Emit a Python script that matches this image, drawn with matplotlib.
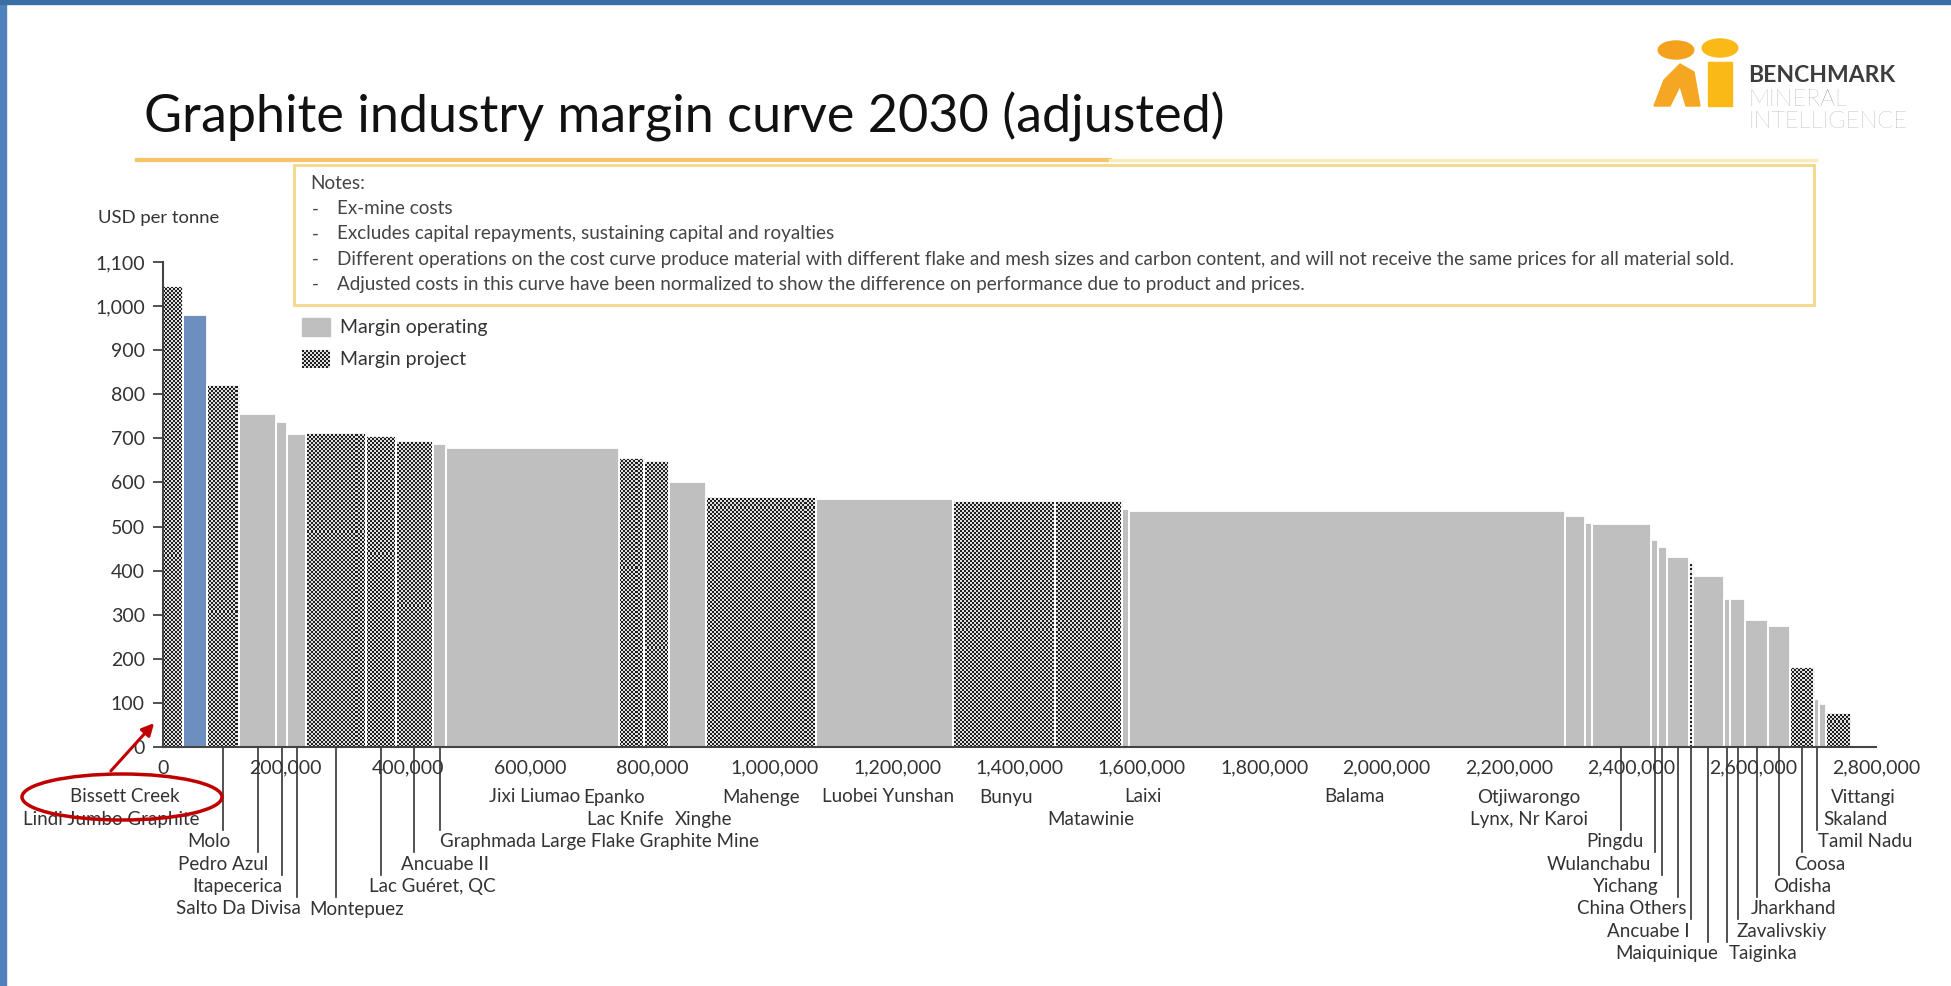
import matplotlib
matplotlib.use("Agg")
import matplotlib.pyplot as plt
from matplotlib.patches import Ellipse, Rectangle, FancyArrowPatch, Circle, Polygon
from matplotlib.colors import ListedColormap
from matplotlib.ticker import FuncFormatter
import numpy as np

plt.rcParams['font.family'] = ['Lato', 'DejaVu Sans']

# operations, left to right on the curve
names = ["Bissett Creek", "Lindi Jumbo Graphite", "Molo", "Pedro Azul", "Itapecerica",
         "Salto Da Divisa", "Montepuez", "Lac Guéret, QC", "Ancuabe II",
         "Graphmada Large Flake Graphite Mine", "Jixi Liumao", "Epanko", "Lac Knife",
         "Xinghe", "Mahenge", "Luobei Yunshan", "Bunyu", "Matawinie", "Laixi", "Balama",
         "Otjiwarongo", "Lynx, Nr Karoi", "Pingdu", "Wulanchabu", "Yichang",
         "China Others", "Ancuabe I", "Maiquinique", "Taiginka", "Zavalivskiy",
         "Jharkhand", "Odisha", "Coosa", "Tamil Nadu", "Skaland", "Vittangi"]
# capacity in tonnes
capacity = [32000, 40000, 53000, 60000, 18000, 31000, 97000, 50000, 60000, 22000,
            283000, 41000, 40000, 60000, 180000, 224000, 167000, 110000, 11000, 712000,
            33000, 11000, 97000, 12000, 14000, 36000, 7000, 50000, 11000, 24000,
            38000, 35000, 40000, 8000, 12000, 40000]
# margin USD per tonne
margin = [1045, 980, 822, 755, 738, 710, 712, 705, 693, 688,
          679, 655, 649, 602, 567, 562, 559, 559, 540, 535,
          525, 508, 505, 469, 454, 432, 417, 388, 336, 336,
          287, 275, 181, 110, 98, 78]
# P = project, O = operating, H = highlighted
kind = ["P", "H", "P", "O", "O", "O", "P", "P", "P", "O",
        "O", "P", "P", "O", "P", "O", "P", "P", "O", "O",
        "O", "O", "O", "O", "O", "O", "P", "O", "O", "O",
        "O", "O", "P", "O", "O", "P"]

notes = ["Ex-mine costs",
         "Excludes capital repayments, sustaining capital and royalties",
         "Different operations on the cost curve produce material with different flake and mesh sizes and carbon content, and will not receive the same prices for all material sold.",
         "Adjusted costs in this curve have been normalized to show the difference on performance due to product and prices."]

# label layout: (row, x position in tonnes, leader line)
label_layout = {
    "Bissett Creek": (1, -62000, False), "Lindi Jumbo Graphite": (2, -85000, False),
    "Molo": (3, 75000, True), "Pedro Azul": (4, 98000, True),
    "Itapecerica": (5, 122000, True), "Salto Da Divisa": (6, 123000, True),
    "Montepuez": (6, 317000, True), "Lac Guéret, QC": (5, 440000, True),
    "Ancuabe II": (4, 461000, True), "Graphmada Large Flake Graphite Mine": (3, 713000, True),
    "Jixi Liumao": (1, 607000, False), "Epanko": (1, 737000, False),
    "Lac Knife": (2, 756000, False), "Xinghe": (2, 884000, False),
    "Mahenge": (1, 978000, False), "Luobei Yunshan": (1, 1185000, False),
    "Bunyu": (1, 1378000, False), "Matawinie": (2, 1517000, False),
    "Laixi": (1, 1602000, False), "Balama": (1, 1947000, False),
    "Otjiwarongo": (1, 2233000, False), "Lynx, Nr Karoi": (2, 2233000, False),
    "Pingdu": (3, 2373000, True), "Wulanchabu": (4, 2347000, True),
    "Yichang": (5, 2391000, True), "China Others": (6, 2401000, True),
    "Ancuabe I": (7, 2428000, True), "Maiquinique": (8, 2458000, True),
    "Taiginka": (8, 2615000, True), "Zavalivskiy": (7, 2646000, True),
    "Jharkhand": (6, 2665000, True), "Odisha": (5, 2679000, True),
    "Coosa": (4, 2708000, True), "Tamil Nadu": (3, 2782000, True),
    "Skaland": (2, 2767000, False), "Vittangi": (1, 2780000, False),
}

W, H = 1951, 986
fig = plt.figure(figsize=(W / 100, H / 100), dpi=100)
ax_px = (1876 - 163, 747 - 262)
ax = fig.add_axes([163 / W, (H - 747) / H, ax_px[0] / W, ax_px[1] / H])

checker_cmap = ListedColormap(['#202020', '#dedede'])
cell = 2
ny, nx = ax_px[1] // cell, ax_px[0] // cell
checker = np.indices((ny, nx)).sum(axis=0) % 2

cap = np.array(capacity)
left = np.concatenate([[0], np.cumsum(cap)[:-1]])
for x0, w, m, k in zip(left, cap, margin, kind):
    if k == "P":
        bars = ax.bar(x0, m, w, align='edge', color='#7a7a7a', linewidth=0)
        im = ax.imshow(checker, cmap=checker_cmap, extent=(0, 2800000, 0, 1100),
                       aspect='auto', interpolation='nearest', zorder=2)
        im.set_clip_path(bars[0])
    elif k == "H":
        ax.bar(x0, m, w, align='edge', color='#6d8fbf', linewidth=0)
    else:
        ax.bar(x0, m, w, align='edge', color='#bfbfbf', linewidth=0)
    ax.bar(x0, m, w, align='edge', fill=False, edgecolor='white', linewidth=1.3,
           zorder=3)

ax.set_xlim(0, 2800000)
ax.set_ylim(0, 1100)
ax.set_xticks(np.arange(0, 2800001, 200000))
ax.set_yticks(np.arange(0, 1101, 100))
ax.xaxis.set_major_formatter(FuncFormatter(lambda v, p: f"{int(v):,}"))
ax.yaxis.set_major_formatter(FuncFormatter(lambda v, p: f"{int(v):,}"))
ax.tick_params(axis='both', labelsize=14, colors='#333333', length=7, width=1.2)
ax.tick_params(axis='y', pad=6)
ax.tick_params(axis='x', length=0, pad=9)
for s in ['top', 'right']:
    ax.spines[s].set_visible(False)
for s in ['left', 'bottom']:
    ax.spines[s].set_color('#444444')
    ax.spines[s].set_linewidth(1.5)
    ax.spines[s].set_zorder(4)

# labels below the axis
def row_y(r):
    y_px = 797 + (r - 1) * 22.4
    return (747 - y_px) / 485

centers = left + cap / 2
xt = ax.get_xaxis_transform()
for name, c in zip(names, centers):
    r, lx, line = label_layout[name]
    ax.text(lx, row_y(r), name, transform=xt, ha='center', va='center',
            fontsize=13.5, color='#333333', clip_on=False)
    if line:
        ax.plot([c, c], [0, row_y(r) + 12 / 485], transform=xt, color='#333333',
                linewidth=1.2, clip_on=False)

ax.text(-0.0025, 1.09, "USD per tonne", transform=ax.transAxes, ha='center',
        va='center', fontsize=13.3, color='#333333')

# legend
fig.patches.append(Rectangle((302 / W, 1 - 336 / H), 28 / W, 18 / H,
                             transform=fig.transFigure, color='#bfbfbf'))
lax = fig.add_axes([302 / W, 1 - 368 / H, 28 / W, 18 / H])
lax.imshow(np.indices((9, 14)).sum(axis=0) % 2, cmap=checker_cmap, aspect='auto',
           interpolation='nearest')
lax.axis('off')
fig.text(340 / W, 1 - 327 / H, "Margin operating", fontsize=14, color='#333333',
         va='center')
fig.text(340 / W, 1 - 359 / H, "Margin project", fontsize=14, color='#333333',
         va='center')

# notes box
fig.patches.append(Rectangle((294 / W, 1 - 305 / H), (1814 - 294) / W, 140 / H,
                             transform=fig.transFigure, fill=False,
                             edgecolor='#f3d88a', linewidth=2))
fig.text(310 / W, 1 - 184 / H, "Notes:", fontsize=13.6, color='#444444', va='center')
for i, n in enumerate(notes):
    y = 1 - (209 + i * 25) / H
    fig.text(312 / W, y, "-", fontsize=13.6, color='#444444', va='center')
    fig.text(337 / W, y, n, fontsize=13.6, color='#444444', va='center')

# title and underline
fig.text(144 / W, 1 - 117 / H, "Graphite industry margin curve 2030 (adjusted)",
         fontsize=37.5, color='#111111', va='center')
fig.add_artist(plt.Line2D([137 / W, 1110 / W], [1 - 160 / H] * 2,
                          transform=fig.transFigure, color='#f6c26b', linewidth=3))
fig.add_artist(plt.Line2D([1110 / W, 1816 / W], [1 - 160 / H] * 2,
                          transform=fig.transFigure, color='#f8ecb8', linewidth=2.5))

# logo
tf = fig.transFigure
fig.patches.append(Circle((1676 / W, 1 - 50 / H), 9 / H, transform=tf, color='#f4a21d'))
fig.patches.append(Polygon([(1654 / W, 1 - 106 / H), (1664 / W, 1 - 80 / H),
                            (1680 / W, 1 - 64 / H), (1694 / W, 1 - 72 / H),
                            (1700 / W, 1 - 106 / H), (1686 / W, 1 - 106 / H),
                            (1680 / W, 1 - 86 / H), (1670 / W, 1 - 106 / H)],
                           transform=tf, color='#f5a623'))
fig.patches.append(Circle((1720 / W, 1 - 48 / H), 9 / H, transform=tf, color='#fbb917'))
fig.patches.append(Rectangle((1708 / W, 1 - 106 / H), 24 / W, 44 / H,
                             transform=tf, color='#fbb917'))
fig.text(1748 / W, 1 - 76 / H, "BENCHMARK", fontsize=16.5, fontweight='bold',
         color='#3d3d3d', va='center')
fig.text(1748 / W, 1 - 99 / H, "MINERAL", fontsize=17, fontweight='light',
         color='#8c8c8c', va='center')
fig.text(1748 / W, 1 - 122 / H, "INTELLIGENCE", fontsize=17, fontweight='light',
         color='#8c8c8c', va='center')

# slide frame
fig.patches.append(Rectangle((0, 0), 6 / W, 1, transform=tf, color='#4f81bd'))
fig.patches.append(Rectangle((0, 1 - 4 / H), 1, 4 / H, transform=tf, color='#3a6ea5'))

# red highlight around Bissett Creek
fig.patches.append(Ellipse((122 / W, 1 - 797 / H), 200 / W, 46 / H,
                           transform=tf, fill=False, edgecolor='#c00000', linewidth=2.5))
fig.patches.append(FancyArrowPatch((109 / W, 1 - 773 / H), (156 / W, 1 - 721 / H),
                                   transform=tf, arrowstyle='-|>',
                                   mutation_scale=18, color='#c00000', linewidth=2.2))

fig.savefig("out.png", dpi=100)
